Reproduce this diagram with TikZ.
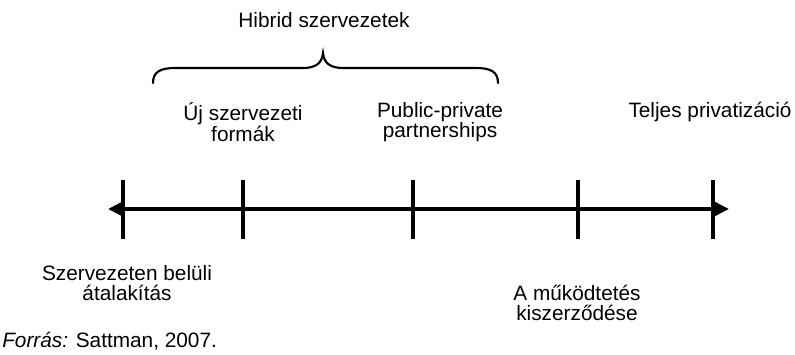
\documentclass[tikz,border=0pt]{standalone}
\usepackage{fontspec}
\setmainfont{Liberation Sans}
\usetikzlibrary{arrows.meta}
\begin{document}
\begin{tikzpicture}[x=0.75pt,y=-0.75pt,
  lbl/.style={align=center,inner sep=0pt,font=\fontsize{15.6}{15.4}\selectfont},
  axisline/.style={line width=3.2pt,
    {Triangle[length=10.5pt,width=10pt]}-{Triangle[length=10.5pt,width=10pt]}},
  tickmark/.style={line width=2.4pt},
  bracepath/.style={line width=1.6pt,line cap=round}]
\useasboundingbox (0,0) rectangle (795,354);

% axis with its two arrow ends
\coordinate (L) at (108,209);
\coordinate (R) at (729,209);
\draw[axisline] (L) -- (R);

% tick marks
\foreach \name/\x in {t1/123,t2/243,t3/413,t4/578,t5/713}{
  \coordinate (\name top) at (\x,180);
  \coordinate (\name bot) at (\x,239);
  \draw[tickmark] (\name top) -- (\name bot);
}

% brace over the hybrid forms
\coordinate (b1) at (153,83);
\coordinate (bm) at (323,53);
\coordinate (b2) at (498,83);
\draw[bracepath] (b1) .. controls (153,72) and (160,68) .. (175,68)
  -- (303,68) .. controls (316,68) and (322,63) .. (bm)
  .. controls (324,63) and (330,68) .. (343,68)
  -- (476,68) .. controls (491,68) and (498,72) .. (b2);

% labels
\node[lbl] (hib) at (324,20) {Hibrid szervezetek};
\node[lbl] (uj) at (243,122) {Új szervezeti\\formák};
\node[lbl] (ppp) at (440,122) {Public-private\\partnerships};
\node[lbl] (tel) at (710,112) {Teljes privatizáció};
\node[lbl] (bel) at (127,283) {Szervezeten belüli\\átalakítás};
\node[lbl] (kisz) at (577,303) {A működtetés\\kiszerződése};
\node[lbl,anchor=west] (src) at (2,341) {\textit{Forrás:} Sattman, 2007.};
\end{tikzpicture}
\end{document}
